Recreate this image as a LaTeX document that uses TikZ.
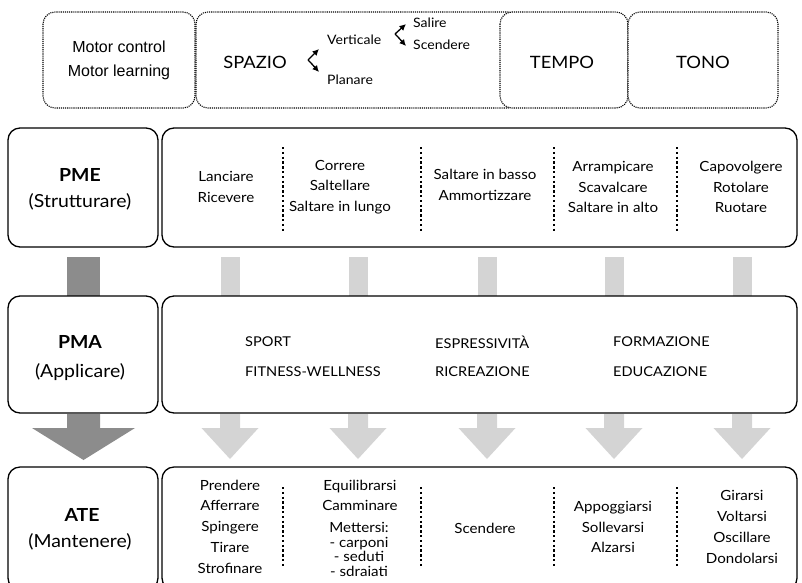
\documentclass[tikz,border=0pt]{standalone}
\usepackage{fontspec}
\usetikzlibrary{arrows.meta}
\setmainfont[FakeStretch=1.08]{Lato}
\newfontfamily\arialf{Liberation Sans}
\definecolor{darkbar}{RGB}{140,140,140}
\definecolor{lightbar}{RGB}{212,212,212}
\begin{document}
\begin{tikzpicture}[x=1pt,y=-1pt,
  dotbox/.style={draw=black, line width=1.1pt, dash pattern=on 1.1pt off 1pt, rounded corners=12pt, fill=white},
  solidbox/.style={draw, line width=1.3pt, rounded corners=12pt, fill=white},
  vsep/.style={line width=1.2pt, dash pattern=on 2.4pt off 2.4pt},
  lbl/.style={font=\fontsize{14}{20.5}\selectfont, align=center, inner sep=0pt},
  caps/.style={font=\fontsize{13.5}{16}\selectfont, anchor=west, inner sep=0pt},
  small/.style={font=\fontsize{13}{16}\selectfont, anchor=west, inner sep=0pt},
  big/.style={font=\fontsize{17}{20}\selectfont, inner sep=0pt},
  head/.style={font=\bfseries\fontsize{18}{20}\selectfont, inner sep=0pt},
  sub/.style={font=\fontsize{18}{20}\selectfont, inner sep=0pt},
  curly/.style={line width=1.3pt, -{Latex[length=6.5pt,width=6.5pt]}}
]
\useasboundingbox (0,0) rectangle (802,582);
\clip (0,0) rectangle (802,582);

% ---------- top dotted row ----------
\draw[dotbox] (43,12) rectangle (195,108);
\draw[dotbox] (196,12) rectangle (520,108);
\draw[dotbox] (500,12) rectangle (628,108);
\draw[dotbox] (628,12) rectangle (778,108);

\node[font=\arialf\fontsize{16}{24}\selectfont, align=center, inner sep=0pt] (mc) at (119,60) {Motor control\\Motor learning};
\node[big] (spazio) at (255,62) {SPAZIO};
\node[small] (vert) at (327,40) {Verticale};
\node[small] (plan) at (327,80) {Planare};
\node[small] (sal) at (413,23) {Salire};
\node[small] (scen) at (413,45) {Scendere};
\node[big] (tempo) at (562,62) {TEMPO};
\node[big] (tono) at (703,62) {TONO};

% curly double arrows
\coordinate (a1) at (308,60);
\coordinate (a1b) at (311,63);
\coordinate (b1) at (395,34);
\coordinate (b1b) at (398,37);
\draw[curly] (a1) -- (319,49);
\draw[curly] (a1) -- (a1b) -- (319,72);
\draw[curly] (b1) -- (406,24);
\draw[curly] (b1) -- (b1b) -- (406,46);

% ---------- connectors (bars and block arrows) ----------
\fill[darkbar] (67,257) rectangle (100,296);
\foreach \c in {230,358,487,614,742}
  \fill[lightbar] (\c-9.5,257) rectangle (\c+9.5,296);

\fill[darkbar] (67,414) -- (100,414) -- (100,428) -- (135,428) -- (83.5,460) -- (32,428) -- (67,428) -- cycle;
\foreach \c in {230,358,487,614,742}
  \fill[lightbar] (\c-10,414) -- (\c+10,414) -- (\c+10,428) -- (\c+28.5,428) -- (\c,459) -- (\c-28.5,428) -- (\c-10,428) -- cycle;

% ---------- PME row ----------
\node[solidbox, minimum width=150pt, minimum height=119pt] (pmeL) at (83,187.5) {};
\node[solidbox, minimum width=635pt, minimum height=119pt] (pmeR) at (479.5,187.5) {};
\node[head] (pme) at (80,175) {PME};
\node[sub] (pmes) at (80,202) {(Strutturare)};
\node[lbl] (p1) at (226,187) {Lanciare\\Ricevere};
\node[lbl] (p2) at (340,187) {Correre\\Saltellare\\Saltare in lungo};
\node[lbl] (p3) at (485,185) {Saltare in basso\\Ammortizzare};
\node[lbl] (p4) at (613,187) {Arrampicare\\Scavalcare\\Saltare in alto};
\node[lbl] (p5) at (741,187) {Capovolgere\\Rotolare\\Ruotare};
\foreach \x in {283,421,554,677}
  \draw[vsep] (\x,147) -- (\x,232);

% ---------- PMA row ----------
\node[solidbox, minimum width=150pt, minimum height=117pt] (pmaL) at (83,354.5) {};
\node[solidbox, minimum width=635pt, minimum height=117pt] (pmaR) at (479.5,354.5) {};
\node[head] (pma) at (80,342) {PMA};
\node[sub] (pmas) at (80,372) {(Applicare)};
\node[caps] (s1) at (245,342) {SPORT};
\node[caps] (s2) at (245,372) {FITNESS-WELLNESS};
\node[caps] (s3) at (435,342) {ESPRESSIVITÀ};
\node[caps] (s4) at (435,372) {RICREAZIONE};
\node[caps] (s5) at (613,342) {FORMAZIONE};
\node[caps] (s6) at (613,372) {EDUCAZIONE};

% ---------- ATE row ----------
\node[solidbox, minimum width=150pt, minimum height=123pt] (ateL) at (83,528.5) {};
\node[solidbox, minimum width=635pt, minimum height=123pt] (ateR) at (479.5,528.5) {};
\node[head] (ate) at (82,515) {ATE};
\node[sub] (ates) at (80,542) {(Mantenere)};
\node[lbl, font=\fontsize{14}{20.7}\selectfont] (t1) at (230,526.5) {Prendere\\Afferrare\\Spingere\\Tirare\\Strofinare};
\node[lbl] (t2a) at (360,495.5) {Equilibrarsi\\Camminare};
\node[lbl, font=\fontsize{14}{14.5}\selectfont] (t2b) at (359,549.5) {Mettersi:\\- carponi\\- seduti\\- sdraiati};
\node[lbl] (t3) at (485,528) {Scendere};
\node[lbl] (t4) at (613,527) {Appoggiarsi\\Sollevarsi\\Alzarsi};
\node[lbl, font=\fontsize{14}{21}\selectfont] (t5) at (742,526.5) {Girarsi\\Voltarsi\\Oscillare\\Dondolarsi};
\foreach \x in {283,421,554,677}
  \draw[vsep] (\x,487) -- (\x,567);
\end{tikzpicture}
\end{document}
